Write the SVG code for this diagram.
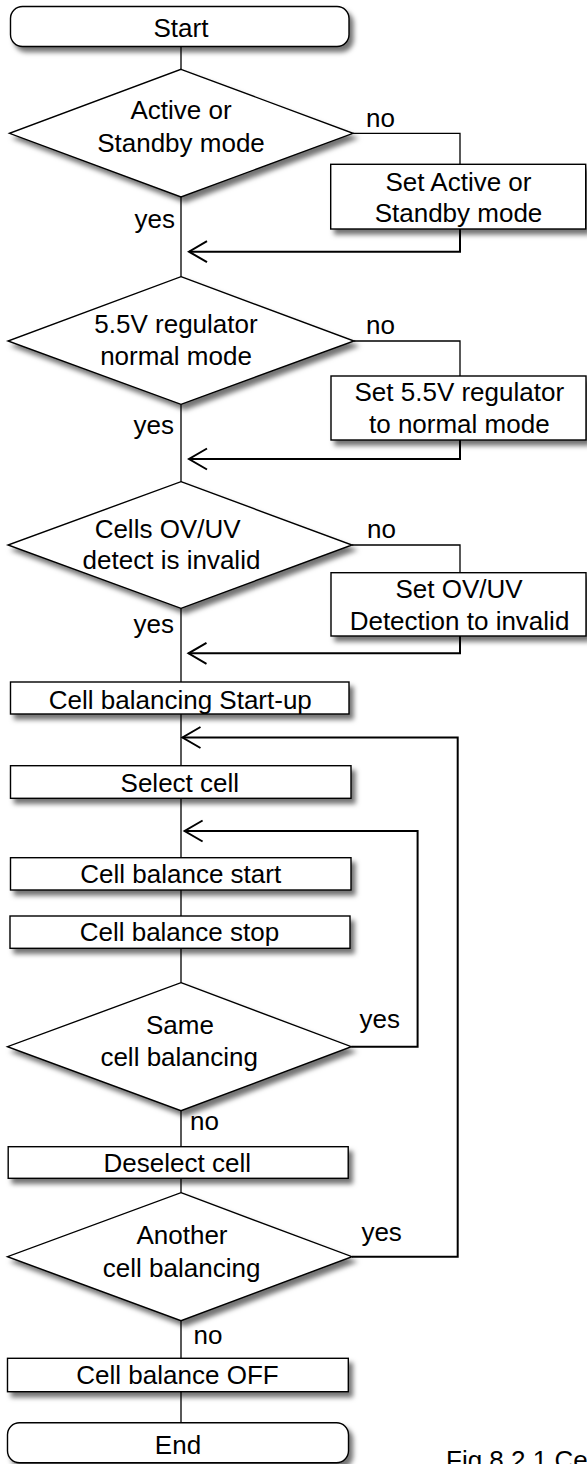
<svg xmlns="http://www.w3.org/2000/svg" width="587" height="1464" viewBox="0 0 587 1464">
<style>
.shape{fill:#fff;stroke:#000;stroke-width:1.4;filter:url(#sh)}
.t{font-family:"Liberation Sans",Arial,sans-serif;font-size:26px;fill:#000;text-anchor:middle}
.l{font-family:"Liberation Sans",Arial,sans-serif;font-size:26px;fill:#000}
.c{fill:none;stroke:#000;stroke-width:1.3}
.r{fill:none;stroke:#000;stroke-width:2;marker-end:url(#ah)}
</style>
<defs>
<filter id="sh" x="-10%" y="-20%" width="130%" height="160%">
<feDropShadow dx="4" dy="5" stdDeviation="2.5" flood-color="#000" flood-opacity="0.55"/>
</filter>
<marker id="ah" markerUnits="userSpaceOnUse" viewBox="-20 -12 22 24" refX="0" refY="0" markerWidth="22" markerHeight="24" orient="auto" overflow="visible">
<path d="M-18,-10.5 L0,0 L-18,10.5" fill="none" stroke="#000" stroke-width="2"/>
</marker>
</defs>
<rect width="587" height="1464" fill="#fff"/>

<g id="start"><rect class="shape" x="10.5" y="6.5" width="338.5" height="40" rx="12"/><text class="t" x="181" y="36.5">Start</text></g>

<g id="d1"><polygon class="shape" points="181,69.3 353,133.3 181,197 9.5,133.3"/><text class="t" x="181" y="119.3">Active or</text><text class="t" x="181" y="151.7">Standby mode</text></g>
<g id="b1"><rect class="shape" x="330.7" y="164.3" width="255" height="64.7"/><text class="t" x="458.5" y="191">Set Active or</text><text class="t" x="458.5" y="221.7">Standby mode</text></g>

<g id="d2"><polygon class="shape" points="181,276.7 354,341 181,404.3 8,341"/><text class="t" x="176" y="333.3">5.5V regulator</text><text class="t" x="176" y="365">normal mode</text></g>
<g id="b2"><rect class="shape" x="331" y="376" width="255" height="64"/><text class="t" x="459.3" y="401">Set 5.5V regulator</text><text class="t" x="459.3" y="432.7">to normal mode</text></g>

<g id="d3"><polygon class="shape" points="181,481.7 352,545 181,608.3 8,545"/><text class="t" x="167.6" y="537.7">Cells OV/UV</text><text class="t" x="171.5" y="569.3">detect is invalid</text></g>
<g id="b3"><rect class="shape" x="331" y="572.7" width="255" height="63.3"/><text class="t" x="459" y="597.7">Set OV/UV</text><text class="t" x="459.5" y="630">Detection to invalid</text></g>

<g id="startup"><rect class="shape" x="10.5" y="682" width="338.5" height="32"/><text class="t" x="180.3" y="709">Cell balancing Start-up</text></g>
<g id="select"><rect class="shape" x="10.5" y="765.7" width="340.5" height="32.6"/><text class="t" x="179.8" y="791.5">Select cell</text></g>
<g id="bstart"><rect class="shape" x="10.5" y="857.7" width="340.5" height="32.3"/><text class="t" x="180.7" y="883.3">Cell balance start</text></g>
<g id="bstop"><rect class="shape" x="10" y="916" width="340" height="32.3"/><text class="t" x="179.4" y="940.7">Cell balance stop</text></g>

<g id="d4"><polygon class="shape" points="181,982.7 351.3,1046.7 181,1110.7 7.5,1046.7"/><text class="t" x="180" y="1034.3">Same</text><text class="t" x="179.2" y="1065.7">cell balancing</text></g>
<g id="deselect"><rect class="shape" x="8.2" y="1146.7" width="340" height="31.6"/><text class="t" x="177.3" y="1172.3">Deselect cell</text></g>
<g id="d5"><polygon class="shape" points="181,1192.7 352,1256.7 181,1320.7 7.5,1256.7"/><text class="t" x="182" y="1244.3">Another</text><text class="t" x="181.6" y="1276.5">cell balancing</text></g>
<g id="off"><rect class="shape" x="7.5" y="1358.3" width="340.8" height="33.4"/><text class="t" x="177.5" y="1384">Cell balance OFF</text></g>
<g id="end"><rect class="shape" x="7.5" y="1422.7" width="341" height="40" rx="12"/><text class="t" x="178" y="1454">End</text></g>

<g id="connectors">
<path class="c" d="M181,46.5 V69.3 M181,197 V276.7 M181,404.3 V481.7 M181,608.3 V682 M181,714 V765.7 M181,798.3 V857.7 M181,890 V916 M181,948.3 V982.7 M181,1110.7 V1146.7 M181,1178.3 V1192.7 M181,1320.7 V1358.3 M181,1391.7 V1422.7"/>
<path class="c" d="M353,133.3 H460 V164.3"/>
<path class="c" d="M354,341 H460 V376"/>
<path class="c" d="M352,545 H460 V572.7"/>
<path class="r" d="M460,229 V251.7 H189"/>
<path class="r" d="M460,440 V459 H189"/>
<path class="r" d="M460,636 V653.3 H188.5"/>
<path class="r" d="M351.3,1046.7 H417.6 V831 H184.6"/>
<path class="r" d="M352,1256.7 H457.7 V737.5 H182.5"/>
</g>

<g id="labels">
<text class="l" x="366" y="126.7">no</text>
<text class="l" x="366" y="334.3">no</text>
<text class="l" x="367" y="538.3">no</text>
<text class="l" x="175" y="227.7" text-anchor="end">yes</text>
<text class="l" x="174" y="434.3" text-anchor="end">yes</text>
<text class="l" x="174" y="632.5" text-anchor="end">yes</text>
<text class="l" x="359.6" y="1028.3">yes</text>
<text class="l" x="190" y="1130">no</text>
<text class="l" x="361.4" y="1241">yes</text>
<text class="l" x="193.6" y="1344">no</text>
<text class="l" x="446" y="1469.3">Fig.8.2.1 Ce</text>
</g>
</svg>
